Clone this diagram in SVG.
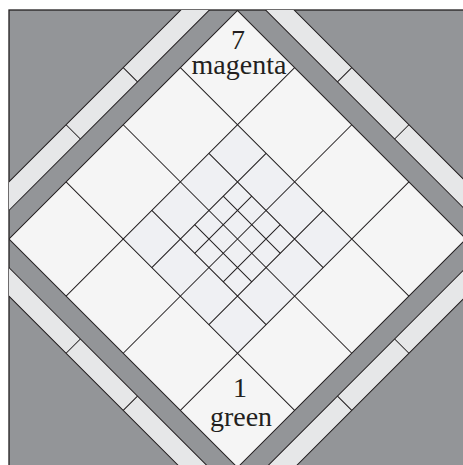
<svg xmlns="http://www.w3.org/2000/svg" width="463" height="465" viewBox="0 0 463 465">
  <style>
    .ln{stroke:#231f20;stroke-width:1;fill:none}
    .strip{fill:#e6e7e8;stroke:#231f20;stroke-width:1}
    .lbl{font-family:"Liberation Serif","DejaVu Serif",serif;font-size:28px;fill:#231f20;text-anchor:middle}
  </style>
  <defs>
    <clipPath id="frameClip"><rect x="9" y="10" width="470" height="470"/></clipPath>
  </defs>
  <rect x="0" y="0" width="463" height="465" fill="#ffffff"/>
  <g id="frame">
    <rect x="9" y="10" width="470" height="470" fill="#939598" stroke="#231f20" stroke-width="1.3"/>
  </g>
  <g clip-path="url(#frameClip)">
    <g transform="translate(237.5 239) rotate(45)">
      <g id="strips">
        <rect class="strip" x="-202" y="-202" width="20.2" height="404"/>
        <rect class="strip" x="181.8" y="-202" width="20.2" height="404"/>
        <rect class="strip" x="-202" y="-202" width="404" height="20.2"/>
        <rect class="strip" x="-202" y="181.8" width="404" height="20.2"/>
        <path class="ln" d="M-202 -40.4H-181.8M-202 40.4H-181.8M181.8 -40.4H202M181.8 40.4H202M-40.4 -202V-181.8M40.4 -202V-181.8M-40.4 181.8V202M40.4 181.8V202"/>
      </g>
      <g id="diamond">
        <rect x="-161.6" y="-161.6" width="323.2" height="323.2" fill="#f5f5f5" stroke="#231f20" stroke-width="1"/>
        <rect x="-80.8" y="-80.8" width="161.6" height="161.6" fill="#eff0f3"/>
      </g>
      <g id="connectors">
        <path class="ln" d="M-80.8 -161.6V161.6M0 -161.6V161.6M80.8 -161.6V161.6M-161.6 -80.8H161.6M-161.6 0H161.6M-161.6 80.8H161.6"/>
        <path class="ln" d="M-40.4 -80.8V80.8M40.4 -80.8V80.8M-80.8 -40.4H80.8M-80.8 40.4H80.8"/>
        <path class="ln" d="M-20.2 -40.4V40.4M20.2 -40.4V40.4M-40.4 -20.2H40.4M-40.4 20.2H40.4"/>
      </g>
    </g>
  </g>
  <g id="label-top">
    <text class="lbl"><tspan x="238" y="49">7</tspan><tspan x="239" y="74">magenta</tspan></text>
  </g>
  <g id="label-bottom">
    <text class="lbl"><tspan x="240" y="397">1</tspan><tspan x="241" y="426">green</tspan></text>
  </g>
</svg>
